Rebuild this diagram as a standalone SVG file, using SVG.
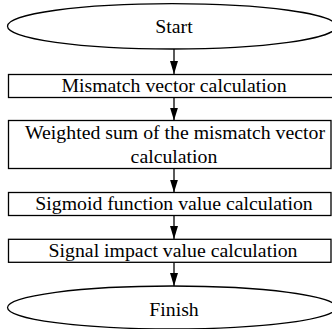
<svg xmlns="http://www.w3.org/2000/svg" width="332" height="329" viewBox="0 0 332 329">
  <style>
    .shape { fill: #ffffff; stroke: #000000; stroke-width: 1.3; }
    .label { font-size: 19.8px; fill: #000000; text-anchor: middle; }
    .link { stroke: #000000; stroke-width: 1.3; marker-end: url(#head); }
  </style>
  <defs>
    <marker id="head" viewBox="0 0 13 8" refX="13" refY="4" markerWidth="13" markerHeight="8" markerUnits="userSpaceOnUse" orient="auto">
      <path d="M0,0 L13,4 L0,8 Z" fill="#000000"/>
    </marker>
  </defs>

  <rect width="332" height="329" fill="#ffffff"/>

  <g id="connectors">
    <line class="link" x1="174" y1="49" x2="174" y2="74"/>
    <line class="link" x1="174" y1="97.5" x2="174" y2="120.5"/>
    <line class="link" x1="174" y1="168.5" x2="174" y2="192.5"/>
    <line class="link" x1="174" y1="215.5" x2="174" y2="239"/>
    <line class="link" x1="174" y1="262.5" x2="174" y2="286"/>
  </g>

  <g font-family="'Liberation Serif', 'DejaVu Serif', serif">
    <g id="start">
      <ellipse class="shape" cx="172" cy="26.3" rx="164.5" ry="22.7"/>
      <text class="label" x="174" y="33.3">Start</text>
    </g>

    <g id="mismatch-vector">
      <rect class="shape" x="8.5" y="74.5" width="326" height="23"/>
      <text class="label" x="174" y="92">Mismatch vector calculation</text>
    </g>

    <g id="weighted-sum">
      <rect class="shape" x="8.5" y="120.5" width="322.5" height="48"/>
      <text class="label" x="175" y="138.5">Weighted sum of the mismatch vector</text>
      <text class="label" x="174" y="162.7">calculation</text>
    </g>

    <g id="sigmoid">
      <rect class="shape" x="8.5" y="192.5" width="322.5" height="23"/>
      <text class="label" x="174" y="210">Sigmoid function value calculation</text>
    </g>

    <g id="signal-impact">
      <rect class="shape" x="8.5" y="239.3" width="322.5" height="23"/>
      <text class="label" x="173" y="256.7">Signal impact value calculation</text>
    </g>

    <g id="finish">
      <ellipse class="shape" cx="172" cy="307.5" rx="164.5" ry="21.5"/>
      <text class="label" x="174" y="316">Finish</text>
    </g>
  </g>
</svg>
